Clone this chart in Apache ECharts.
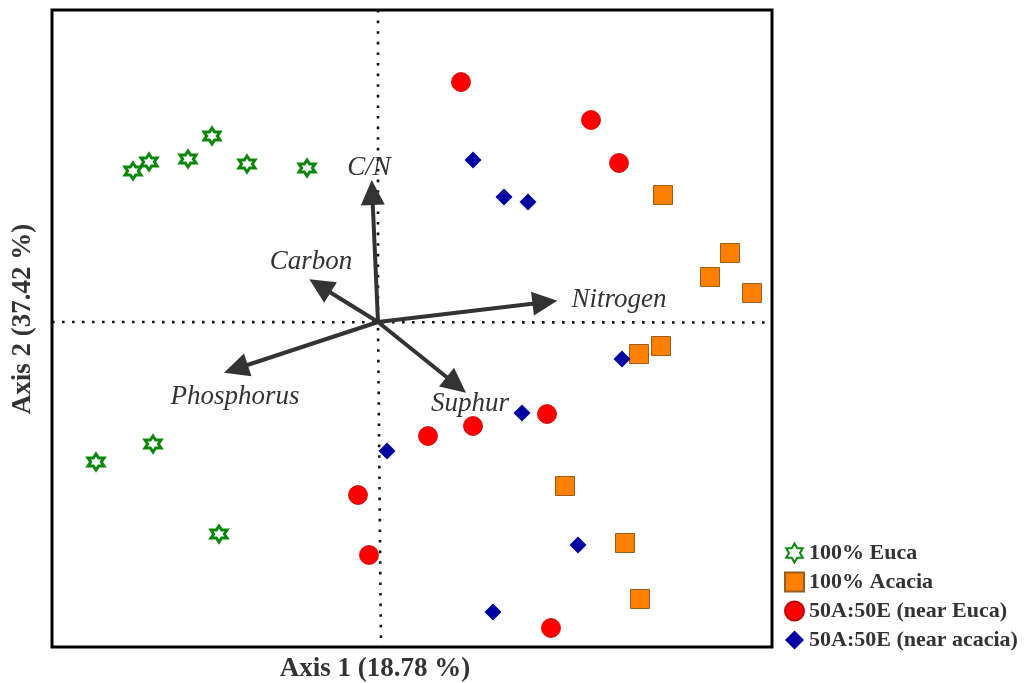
<!DOCTYPE html>
<html>
<head>
<meta charset="utf-8">
<script src="https://cdn.jsdelivr.net/npm/echarts@6/dist/echarts.min.js"></script>
<style>
html,body{margin:0;padding:0;background:#fff;}
#chart{width:1033px;height:683px;}
</style>
</head>
<body>
<div id="chart"></div>
<script>
// ---- data (ordination scores, arbitrary units, origin at 0,0) ----
const seriesNames = ['100% Euca', '100% Acacia', '50A:50E (near Euca)', '50A:50E (near acacia)'];
const euca = [[-2.45,1.51],[-2.29,1.60],[-1.90,1.63],[-1.66,1.86],[-1.31,1.58],[-0.71,1.54],[-2.82,-1.40],[-2.25,-1.22],[-1.59,-2.12]];
const acacia = [[2.85,1.27],[3.52,0.69],[3.32,0.45],[3.74,0.29],[2.61,-0.32],[2.83,-0.24],[1.87,-1.64],[2.47,-2.21],[2.62,-2.77]];
const nearEuca = [[0.83,2.40],[2.13,2.02],[2.41,1.59],[0.50,-1.14],[0.95,-1.04],[1.69,-0.92],[-0.20,-1.73],[-0.09,-2.33],[1.73,-3.06]];
const nearAcacia = [[0.95,1.62],[1.26,1.25],[1.50,1.20],[2.44,-0.37],[1.44,-0.91],[0.09,-1.29],[2.00,-2.23],[1.15,-2.90]];
// environmental vectors: name, tip, label anchor
const vectorNames = ['C/N','Carbon','Nitrogen','Phosphorus','Suphur'];
const vectorTips = [[-0.063,1.42],[-0.687,0.427],[1.793,0.213],[-1.54,-0.507],[0.88,-0.707]];
const vectorLabels = [[-0.09,1.54],[-0.67,0.60],[2.41,0.22],[-1.43,-0.75],[0.92,-0.82]];
// reference axes through origin
const vLine = [[0,3.12],[0,0],[0.03,-3.25]];
const hLine = [[-3.26,0],[3.94,-0.005]];
const axisTitles = ['Axis 1 (18.78 %)', 'Axis 2 (37.42 %)'];
const xRange = [-3.26, 3.94];
const yRange = [-3.25, 3.12];

// six-pointed star symbol path
function starPath(){
  let pts=[];
  for(let k=0;k<12;k++){
    const a=(-90+30*k)*Math.PI/180;
    const r=(k%2===0)?50:29;
    pts.push([(50+r*Math.cos(a)).toFixed(2),(50+r*Math.sin(a)).toFixed(2)]);
  }
  return 'path://M'+pts.map(p=>p.join(',')).join('L')+'Z';
}
const STAR = starPath();
const FONT = '"Liberation Serif","Times New Roman",serif';

const chart = echarts.init(document.getElementById('chart'), null, {renderer:'canvas'});

const vecData = vectorNames.map((n,i)=>[vectorTips[i][0],vectorTips[i][1],vectorLabels[i][0],vectorLabels[i][1],n]);

const option = {
  animation:false,
  backgroundColor:'#fff',
  grid:{left:52,right:261,top:10,bottom:36,show:true,borderColor:'#000',borderWidth:3,backgroundColor:'transparent'},
  xAxis:{type:'value',min:xRange[0],max:xRange[1],axisLine:{show:false},axisTick:{show:false},axisLabel:{show:false},splitLine:{show:false}},
  yAxis:{type:'value',min:yRange[0],max:yRange[1],axisLine:{show:false},axisTick:{show:false},axisLabel:{show:false},splitLine:{show:false}},
  legend:{
    orient:'vertical',left:779,top:537,itemWidth:19,itemHeight:19,itemGap:7,selectedMode:false,
    data:seriesNames,
    textStyle:{fontFamily:FONT,fontWeight:'bold',fontSize:22,color:'#333',lineHeight:20}
  },
  graphic:[
    {type:'text',silent:true,x:375,y:669,
     style:{text:axisTitles[0],font:'bold 27px '+FONT,fill:'#333',align:'center',verticalAlign:'middle'}},
    {type:'text',silent:true,x:23,y:319,rotation:Math.PI/2,
     style:{text:axisTitles[1],font:'bold 27px '+FONT,fill:'#333',align:'center',verticalAlign:'middle'}}
  ],
  series:[
    {type:'line',data:vLine,symbol:'none',silent:true,z:1,lineStyle:{color:'#111',width:2.6,type:[2.6,8]}},
    {type:'line',data:hLine,symbol:'none',silent:true,z:1,lineStyle:{color:'#111',width:2.6,type:[2.6,7.4]}},
    {
      type:'custom',z:3,silent:true,data:vecData,
      renderItem:function(params,api){
        const o=api.coord([0,0]);
        const t=api.coord([api.value(0),api.value(1)]);
        const dx=t[0]-o[0], dy=t[1]-o[1];
        const L=Math.sqrt(dx*dx+dy*dy); const ux=dx/L, uy=dy/L;
        const hl=25, hw=12;
        const b=[t[0]-ux*hl,t[1]-uy*hl];
        const lp=api.coord([api.value(2),api.value(3)]);
        return {type:'group',children:[
          {type:'line',shape:{x1:o[0],y1:o[1],x2:b[0]+ux*2,y2:b[1]+uy*2},style:{stroke:'#333',lineWidth:4}},
          {type:'polygon',shape:{points:[t,[b[0]-uy*hw,b[1]+ux*hw],[b[0]+uy*hw,b[1]-ux*hw]]},style:{fill:'#333'}},
          {type:'text',x:lp[0],y:lp[1],style:{text:vectorNames[params.dataIndex],font:'italic 27px '+FONT,fill:'#333',align:'center',verticalAlign:'middle'}}
        ]};
      }
    },
    {name:seriesNames[0],type:'scatter',data:euca,symbol:STAR,symbolSize:16,z:4,
     itemStyle:{color:'#fff',borderColor:'#0a870a',borderWidth:3,opacity:1}},
    {name:seriesNames[1],type:'scatter',data:acacia,symbol:'rect',symbolSize:19,z:4,
     itemStyle:{color:'#ff8000',borderColor:'#9a5d20',borderWidth:1,opacity:1}},
    {name:seriesNames[2],type:'scatter',data:nearEuca,symbol:'circle',symbolSize:19,z:4,
     itemStyle:{color:'#ff0000',borderColor:'#c00000',borderWidth:0.8,opacity:1}},
    {name:seriesNames[3],type:'scatter',data:nearAcacia,symbol:'diamond',symbolSize:17,z:4,
     itemStyle:{color:'#0000a0',opacity:1}}
  ]
};
chart.setOption(option);
</script>
</body>
</html>
